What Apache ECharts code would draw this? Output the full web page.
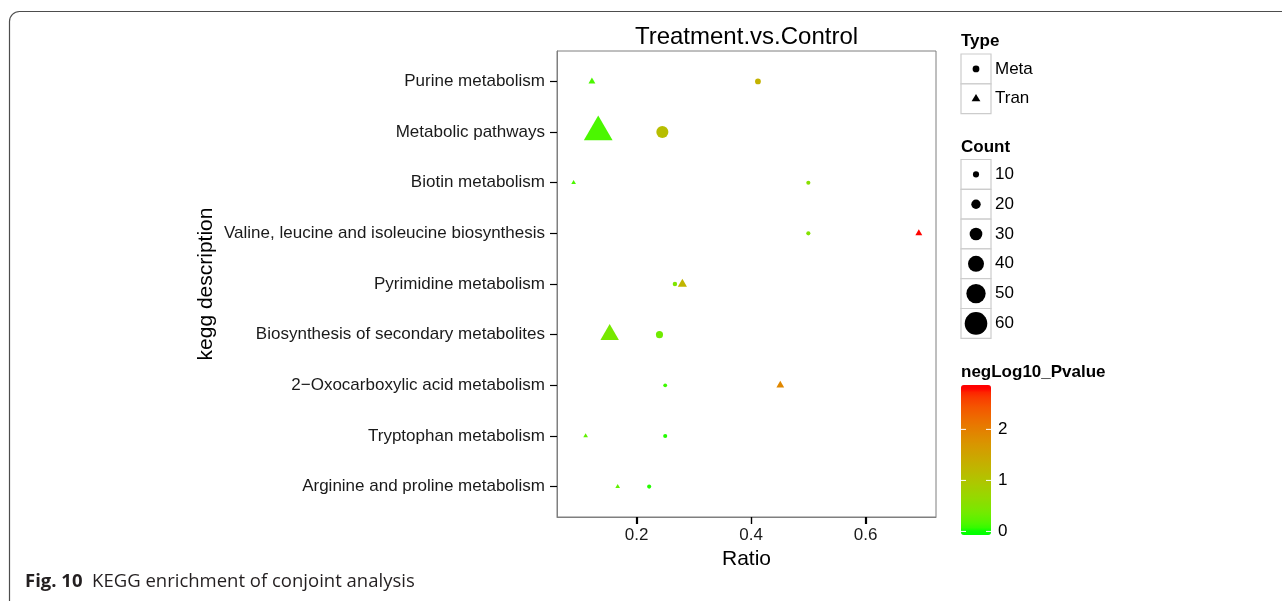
<!DOCTYPE html>
<html>
<head>
<meta charset="utf-8">
<script src="https://cdn.jsdelivr.net/npm/echarts@6/dist/echarts.min.js"></script>
<style>
html,body{margin:0;padding:0;background:#fff;}
#chart{width:1282px;height:601px;}
</style>
</head>
<body>
<div id="chart"></div>
<script>
// ---------------- data ----------------
const categories = [
  'Purine metabolism',
  'Metabolic pathways',
  'Biotin metabolism',
  'Valine, leucine and isoleucine biosynthesis',
  'Pyrimidine metabolism',
  'Biosynthesis of secondary metabolites',
  '2\u2212Oxocarboxylic acid metabolism',
  'Tryptophan metabolism',
  'Arginine and proline metabolism'
];
const metaRatio    = [0.412, 0.245, 0.500, 0.500, 0.267, 0.240, 0.250, 0.250, 0.222];
const metaCount    = [9, 28, 4, 4, 5, 13, 3, 4, 4];
const metaNegLogP  = [1.30, 1.10, 0.55, 0.50, 0.45, 0.35, 0.10, 0.05, 0.05];
const tranRatio    = [0.122, 0.133, 0.090, 0.693, 0.280, 0.153, 0.451, 0.111, 0.167];
const tranCount    = [7, 56, 2, 7, 12, 33, 9, 2, 2];
const tranNegLogP  = [0.15, 0.15, 0.15, 2.80, 1.25, 0.40, 1.90, 0.25, 0.25];

const xTicks = [0.2, 0.4, 0.6];
const typeLabels = ['Meta', 'Tran'];
const countBreaks = [10, 20, 30, 40, 50, 60];
const colorTicks = [0, 1, 2];
const colorLimits = [0, 2.8];

// ---------------- helpers ----------------
const nCat = categories.length;
const pad = 0.6;                         // discrete-axis expansion (ggplot style)
function rowPos(i) { return nCat - 1 - i + pad; }   // first category at top
const rowTicks = categories.map((c,i)=>rowPos(i));
function diam(c) { return 2.8 + 0.33 * c; }

// Lab interpolation (like ggplot2's gradient)
function srgbToLin(c){ c/=255; return c<=0.04045? c/12.92 : Math.pow((c+0.055)/1.055,2.4); }
function linToSrgb(c){ c = c<=0.0031308? 12.92*c : 1.055*Math.pow(c,1/2.4)-0.055; return Math.max(0,Math.min(255,Math.round(c*255))); }
function rgbToLab(r,g,b){
  r=srgbToLin(r); g=srgbToLin(g); b=srgbToLin(b);
  let X=(r*0.4124+g*0.3576+b*0.1805)/0.95047, Y=(r*0.2126+g*0.7152+b*0.0722), Z=(r*0.0193+g*0.1192+b*0.9505)/1.08883;
  const f=t=>t>0.008856?Math.cbrt(t):(7.787*t+16/116);
  return [116*f(Y)-16, 500*(f(X)-f(Y)), 200*(f(Y)-f(Z))];
}
function labToRgb(L,a,b){
  let fy=(L+16)/116, fx=fy+a/500, fz=fy-b/200;
  const fi=t=>t*t*t>0.008856?t*t*t:(t-16/116)/7.787;
  let X=fi(fx)*0.95047, Y=fi(fy), Z=fi(fz)*1.08883;
  let r=X*3.2406+Y*-1.5372+Z*-0.4986, g=X*-0.9689+Y*1.8758+Z*0.0415, bb=X*0.0557+Y*-0.2040+Z*1.0570;
  return 'rgb('+linToSrgb(r)+','+linToSrgb(g)+','+linToSrgb(bb)+')';
}
const labLow = rgbToLab(0,255,0), labHigh = rgbToLab(255,0,0);
function rampColor(t){ t=Math.max(0,Math.min(1,t)); return labToRgb(labLow[0]+(labHigh[0]-labLow[0])*t, labLow[1]+(labHigh[1]-labLow[1])*t, labLow[2]+(labHigh[2]-labLow[2])*t); }

// colour bar geometry (legend)
const barX = 961, barTop = 385, barH = 150, barW = 30;
const vmMin = -0.07, vmMax = 2.87;
const stops = [];
for (let i=0;i<=40;i++){ const v = vmMin + (vmMax-vmMin)*i/40; stops.push(rampColor((v-colorLimits[0])/(colorLimits[1]-colorLimits[0]))); }

// ---------------- series data ----------------
const metaData = categories.map((c,i)=>({ value:[metaRatio[i], rowPos(i), metaCount[i], metaNegLogP[i]], symbolSize: diam(metaCount[i]) }));
const tranData = categories.map((c,i)=>{
  const d = diam(tranCount[i]); const w = 1.35*d, h = 1.17*d;
  return { value:[tranRatio[i], rowPos(i), tranCount[i], tranNegLogP[i]], symbolSize:[w,h], symbolOffset:[0,-h/6] };
});

// ---------------- legend graphics ----------------
const txtFont = '"Liberation Sans", Arial, sans-serif';
const capFont = '"Open Sans", sans-serif';
const g = [];
g.push({ type:'rect', z:0, shape:{x:9.5,y:11.5,width:1320,height:640,r:10}, style:{fill:'none', stroke:'#4d4d4d', lineWidth:1.2} });
g.push({ type:'text', x:746.5, y:37, style:{ text:'Treatment.vs.Control', font:'24px '+txtFont, fill:'#000', align:'center', verticalAlign:'middle' } });
// Type legend
g.push({ type:'text', x:961, y:41, style:{ text:'Type', font:'bold 17px '+txtFont, fill:'#000', verticalAlign:'middle' } });
typeLabels.forEach((lab,i)=>{
  const y0 = 54 + i*29.8;
  g.push({ type:'rect', shape:{x:barX,y:y0,width:barW,height:29.8}, style:{fill:'#fff', stroke:'#cccccc', lineWidth:1.2} });
  if (i===0) g.push({ type:'circle', shape:{cx:barX+barW/2, cy:y0+14.9, r:3.4}, style:{fill:'#000'} });
  else g.push({ type:'polygon', shape:{points:[[barX+barW/2, y0+14.9-4.8],[barX+barW/2+4.4, y0+14.9+2.6],[barX+barW/2-4.4, y0+14.9+2.6]]}, style:{fill:'#000'} });
  g.push({ type:'text', x:995, y:y0+14.9, style:{ text:lab, font:'17px '+txtFont, fill:'#000', verticalAlign:'middle' } });
});
// Count legend
g.push({ type:'text', x:961, y:147, style:{ text:'Count', font:'bold 17px '+txtFont, fill:'#000', verticalAlign:'middle' } });
countBreaks.forEach((c,i)=>{
  const y0 = 159.5 + i*29.8;
  g.push({ type:'rect', shape:{x:barX,y:y0,width:barW,height:29.8}, style:{fill:'#fff', stroke:'#cccccc', lineWidth:1.2} });
  g.push({ type:'circle', shape:{cx:barX+barW/2, cy:y0+14.9, r:diam(c)/2}, style:{fill:'#000'} });
  g.push({ type:'text', x:995, y:y0+14.9, style:{ text:String(c), font:'17px '+txtFont, fill:'#000', verticalAlign:'middle' } });
});
// colour legend title & ticks
g.push({ type:'text', x:961, y:372.5, style:{ text:'negLog10_Pvalue', font:'bold 17px '+txtFont, fill:'#000', verticalAlign:'middle' } });
colorTicks.forEach(v=>{
  const y = barTop + barH*(vmMax - v)/(vmMax - vmMin);
  g.push({ type:'line', z:100, shape:{x1:barX,y1:y,x2:barX+5,y2:y}, style:{stroke:'#fff', lineWidth:1} });
  g.push({ type:'line', z:100, shape:{x1:barX+barW-5,y1:y,x2:barX+barW,y2:y}, style:{stroke:'#fff', lineWidth:1} });
  g.push({ type:'text', x:998, y:y, style:{ text:String(v), font:'17px '+txtFont, fill:'#000', verticalAlign:'middle' } });
});
// caption
g.push({ type:'text', x:25, y:582, style:{ text:'{b|Fig. 10}  KEGG enrichment of conjoint analysis', font:'18.5px '+capFont, fill:'#231f20', verticalAlign:'middle',
  rich:{ b:{ font:'bold 18.5px '+capFont, fill:'#231f20' } } } });

// ---------------- chart ----------------
const chart = echarts.init(document.getElementById('chart'), null, {renderer:'canvas'});
chart.setOption({
  animation:false,
  backgroundColor:'#fff',
  textStyle:{ fontFamily: txtFont },
  grid:{ left:557, top:51, width:379, height:466, show:true, borderColor:'#7f7f7f', borderWidth:1, backgroundColor:'#fff', containLabel:false },
  xAxis:{
    type:'value', min:0.061, max:0.723,
    axisLine:{show:true, lineStyle:{color:'#7f7f7f', width:1}},
    splitLine:{show:false},
    axisTick:{ show:true, inside:false, customValues:xTicks, length:7, lineStyle:{color:'#000', width:1.2} },
    axisLabel:{ customValues:xTicks, formatter:v=>v.toFixed(1), fontSize:17, color:'#1a1a1a', margin:10, fontFamily:txtFont },
    name:'Ratio', nameLocation:'middle', nameGap:28, nameTextStyle:{ fontSize:21, color:'#000', fontFamily:txtFont }
  },
  yAxis:{
    type:'value', min:0, max:nCat - 1 + 2*pad,
    axisLine:{show:true, lineStyle:{color:'#7f7f7f', width:1}},
    splitLine:{show:false},
    axisTick:{ show:true, inside:false, customValues:rowTicks, length:7, lineStyle:{color:'#000', width:1.2} },
    axisLabel:{ customValues:rowTicks, formatter:v=>categories[Math.round(nCat - 1 + pad - v)], fontSize:17, color:'#1a1a1a', margin:12, fontFamily:txtFont },
    name:'kegg description', nameLocation:'middle', nameRotate:90, nameGap:340, nameTextStyle:{ fontSize:21, color:'#000', fontFamily:txtFont }
  },
  visualMap:{
    type:'continuous', dimension:3, seriesIndex:[0,1], min:vmMin, max:vmMax,
    inRange:{ color:stops }, calculable:false, hoverLink:false, realtime:false,
    left:barX, top:barTop, itemWidth:barW, itemHeight:barH, padding:0, text:null, showLabel:false
  },
  series:[
    { name:'Meta', type:'scatter', symbol:'circle', data:metaData, itemStyle:{opacity:1}, emphasis:{disabled:true}, z:3 },
    { name:'Tran', type:'scatter', symbol:'triangle', data:tranData, itemStyle:{opacity:1}, emphasis:{disabled:true}, z:4 }
  ],
  graphic:{ elements:g }
});

// x-axis tick marks placed through the axis scale (ensures they are drawn below the panel)
const yBottom = chart.convertToPixel({yAxisIndex:0}, 0);
xTicks.forEach(v=>{
  const px = Math.round(chart.convertToPixel({xAxisIndex:0}, v)) + 0.5;
  g.push({ type:'line', z:100, shape:{x1:px, y1:yBottom, x2:px, y2:yBottom+7}, style:{stroke:'#000', lineWidth:1.2} });
});
chart.setOption({ graphic:{ elements:g } });
</script>
</body>
</html>
